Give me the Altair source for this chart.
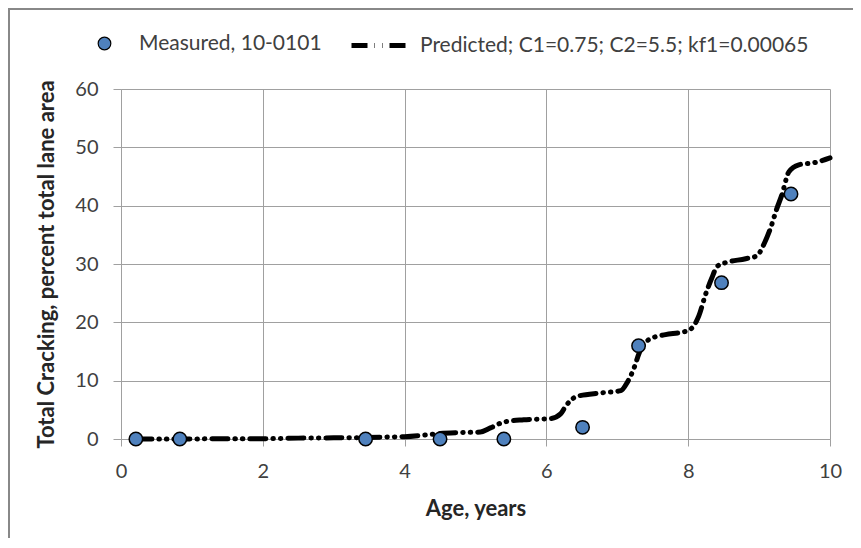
import altair as alt
import pandas as pd

# Measured data
meas_age = [0.21, 0.83, 3.45, 4.50, 5.40, 6.51, 7.30, 8.47, 9.45]
meas_crack = [0.0, 0.0, 0.0, 0.0, 0.0, 2.0, 16.0, 26.8, 42.0]

# Predicted curve (traced)
pred_age = [0.21, 0.85, 1.5, 2.0, 2.5, 3.0, 3.45, 3.8, 4.0, 4.3, 4.5, 4.8, 5.07, 5.21,
            5.40, 5.68, 6.06, 6.2, 6.27, 6.43, 6.77, 7.05, 7.14, 7.24, 7.31, 7.44,
            7.68, 7.91, 8.03, 8.15, 8.24, 8.33, 8.41, 8.52, 8.81, 8.97, 9.06, 9.16,
            9.25, 9.32, 9.42, 9.56, 9.79, 10.0]
pred_crack = [0.0, 0.0, 0.05, 0.05, 0.15, 0.2, 0.25, 0.35, 0.4, 0.7, 0.95, 1.1, 1.2, 1.9,
              2.9, 3.3, 3.5, 4.3, 5.6, 7.3, 7.9, 8.3, 9.7, 12.3, 14.8, 17.0,
              17.9, 18.3, 18.8, 21.1, 24.6, 27.5, 29.6, 30.2, 30.9, 31.4, 33.2, 36.1,
              39.5, 41.8, 45.8, 47.0, 47.4, 48.2]

meas_label = "Measured, 10-0101"
pred_label = "Predicted; C1=0.75; C2=5.5; kf1=0.00065"

FONT = "Lato"
TXT = "#404040"
GRID = "#a0a0a0"

df_m = pd.DataFrame({"age": meas_age, "crack": meas_crack, "series": [meas_label] * len(meas_age)})
df_p = pd.DataFrame({"age": pred_age, "crack": pred_crack, "series": [pred_label] * len(pred_age)})

x_enc = alt.X("age:Q", scale=alt.Scale(domain=[0, 10], nice=False),
              axis=alt.Axis(title="Age, years", values=[0, 2, 4, 6, 8, 10], grid=True,
                            tickSize=7, labelPadding=15, titlePadding=17, format="d",
                            labelFlush=False))
y_enc = alt.Y("crack:Q", scale=alt.Scale(domain=[0, 60], nice=False),
              axis=alt.Axis(title="Total Cracking, percent total lane area",
                            values=[0, 10, 20, 30, 40, 50, 60], grid=True,
                            tickSize=8, labelPadding=15, titlePadding=16, format="d",
                            labelFlush=False))

line = alt.Chart(df_p).mark_line(
    interpolate="monotone", color="black", strokeWidth=5, strokeCap="round"
).encode(
    x=x_enc, y=y_enc,
    strokeDash=alt.StrokeDash("series:N",
        scale=alt.Scale(domain=[pred_label], range=[[16, 7, 0.5, 7, 0.5, 7]]),
        legend=alt.Legend(title=None, orient="none", legendX=228, legendY=-76,
                          symbolType="stroke", symbolSize=3600, symbolStrokeWidth=5,
                          symbolStrokeColor="black", labelOffset=6)),
)

points = alt.Chart(df_m).mark_point(
    shape="circle", filled=True, size=180, stroke="black", strokeWidth=1.5, opacity=1
).encode(
    x="age:Q", y="crack:Q",
    fill=alt.Fill("series:N",
        scale=alt.Scale(domain=[meas_label], range=["#4f81bd"]),
        legend=alt.Legend(title=None, orient="none", legendX=-27, legendY=-56,
                          symbolType="circle", symbolSize=160, symbolStrokeColor="black",
                          symbolStrokeWidth=1.2, labelOffset=24)),
)

frame = pd.DataFrame({"k": [0]})
left_border = alt.Chart(frame).mark_rule(color="#888888", strokeWidth=2).encode(
    x=alt.value(-112), y=alt.value(-81), y2=alt.value(460))
top_border = alt.Chart(frame).mark_rule(color="#888888", strokeWidth=2).encode(
    x=alt.value(-113), x2=alt.value(740), y=alt.value(-80))

chart = alt.layer(line, points, left_border, top_border).resolve_scale(
    fill="independent", strokeDash="independent"
).properties(
    width=709, height=350,
    autosize=alt.AutoSizeParams(type="none"),
    padding={"left": 113, "top": 81, "right": 23, "bottom": 99},
).configure(
    font=FONT,
).configure_view(
    stroke=None,
).configure_axis(
    labelFont=FONT, labelFontSize=20, labelColor=TXT,
    titleFont=FONT, titleFontSize=22, titleFontWeight="bold", titleColor="#262626",
    gridColor=GRID, gridWidth=1, gridOpacity=1,
    domainColor=GRID, domainWidth=1, tickColor=GRID, tickWidth=1,
).configure_legend(
    labelFont=FONT, labelFontSize=21, labelColor=TXT, padding=0, labelLimit=600,
)

chart.save("out.html", embed_options={"renderer": "svg", "actions": False})
